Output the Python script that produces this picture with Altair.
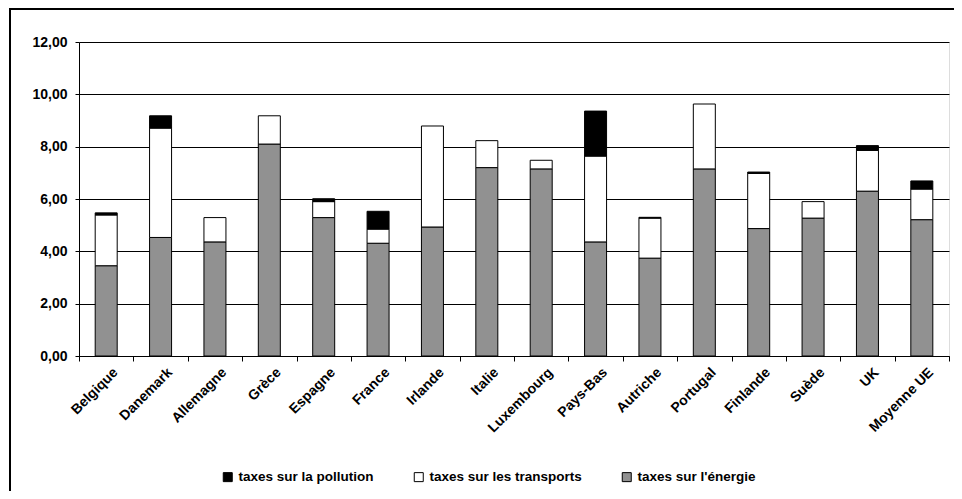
import altair as alt
import pandas as pd

countries = ["Belgique", "Danemark", "Allemagne", "Grèce", "Espagne", "France",
             "Irlande", "Italie", "Luxembourg", "Pays-Bas", "Autriche", "Portugal",
             "Finlande", "Suède", "UK", "Moyenne UE"]
energie = [3.45, 4.53, 4.36, 8.10, 5.29, 4.31, 4.93, 7.20, 7.15, 4.36, 3.74, 7.15,
           4.87, 5.27, 6.30, 5.21]
transports = [1.94, 4.18, 0.93, 1.08, 0.61, 0.54, 3.86, 1.03, 0.33, 3.28, 1.53, 2.48,
              2.11, 0.63, 1.56, 1.17]
pollution = [0.08, 0.47, 0.0, 0.0, 0.11, 0.68, 0.0, 0.0, 0.0, 1.72, 0.03, 0.0,
             0.05, 0.0, 0.18, 0.31]
series = ["taxes sur la pollution", "taxes sur les transports", "taxes sur l'énergie"]
colors = ["#000000", "#ffffff", "#919191"]
y_ticks = [0, 2, 4, 6, 8, 10, 12]

rows = []
for i, c in enumerate(countries):
    for name, vals, order in [(series[2], energie, 0), (series[1], transports, 1),
                              (series[0], pollution, 2)]:
        if vals[i] > 0:
            rows.append({"pays": c, "serie": name, "valeur": vals[i], "ordre": order})
df = pd.DataFrame(rows)

W, H = 870, 314
FONT = "Liberation Sans"
FS = 14

bars = alt.Chart(df).mark_bar(size=22, stroke="black", strokeWidth=1).encode(
    x=alt.X("pays:N", sort=countries,
            scale=alt.Scale(paddingInner=0, paddingOuter=0),
            axis=alt.Axis(title=None, labelAngle=-45, labelAlign="right",
                          labelBaseline="middle", labelOffset=9, labelPadding=9,
                          tickBand="extent", tickSize=5, grid=False,
                          labelFont=FONT, labelFontSize=FS, labelFontWeight="bold",
                          labelColor="black", tickColor="black", domainColor="black")),
    y=alt.Y("valeur:Q", stack="zero",
            scale=alt.Scale(domain=[0, 12], nice=False),
            axis=alt.Axis(title=None, values=y_ticks,
                          labelExpr="replace(format(datum.value, '.2f'), '.', ',')",
                          tickSize=4, labelPadding=8, grid=True, gridColor="black",
                          gridOpacity=1, labelFont=FONT, labelFontSize=FS,
                          labelFontWeight="bold", labelColor="black",
                          tickColor="black", domainColor="black")),
    color=alt.Color("serie:N", scale=alt.Scale(domain=series, range=colors),
                    legend=alt.Legend(title=None, orient="none", legendX=142, legendY=428,
                                      direction="horizontal", columns=3,
                                      symbolType="square", symbolSize=81,
                                      symbolStrokeColor="black", symbolStrokeWidth=1,
                                      columnPadding=38, padding=0,
                                      labelFont=FONT, labelFontSize=13.5,
                                      labelFontWeight="bold", labelColor="black")),
    order=alt.Order("ordre:Q", sort="ascending"),
)

frame = alt.Chart(pd.DataFrame({"f": [0]})).mark_rect(
    fillOpacity=0, stroke="black", strokeWidth=2, clip=False
).encode(
    x=alt.value(-69), x2=alt.value(W + 60), y=alt.value(-33), y2=alt.value(H + 200)
)

chart = alt.layer(frame, bars).properties(
    width=W, height=H,
    padding={"left": 71, "top": 34, "right": 5, "bottom": 135},
    autosize=alt.AutoSizeParams(type="none"),
).configure_view(stroke="#333333", strokeWidth=1).configure(background="white")

chart.save("out.html", embed_options={"renderer": "svg", "actions": False})
